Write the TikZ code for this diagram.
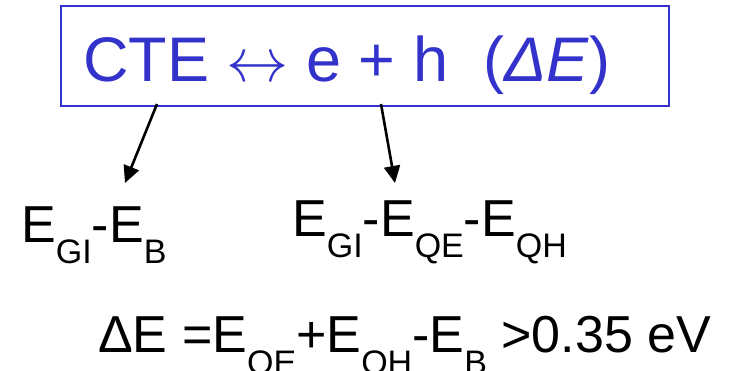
\documentclass[tikz,border=0pt]{standalone}
\usepackage{graphicx}
\usepackage{fontspec}
\setmainfont{Liberation Sans}
\usetikzlibrary{arrows.meta}
\definecolor{boxblue}{RGB}{51,51,204}
\newcommand{\sub}[1]{\raisebox{-21pt}{\fontsize{34}{34}\selectfont #1}}
\newcommand{\lrarrow}{\scalebox{2.5}{\fontsize{24.88}{25}\selectfont$\leftrightarrow$}}
\tikzset{
  frame/.style={draw=boxblue, line width=2pt, minimum width=608pt, minimum height=100pt, inner sep=0pt},
  arr/.style={draw=black, line width=2.6pt, -{Triangle[length=17pt,width=16pt]}},
  lbl/.style={inner sep=0pt, anchor=base west, font=\fontsize{52}{52}\selectfont},
}
\begin{document}
\begin{tikzpicture}[x=1pt,y=-1pt]
\useasboundingbox (0,0) rectangle (734,371);
\node[frame] (box) at (365,56) {};
\node[inner sep=0pt, anchor=base west, text=boxblue, font=\fontsize{63}{63}\selectfont] (top) at (83,82) {CTE \lrarrow\ e + h \ (\textit{ΔE})};
\node[lbl] (l1) at (21,243) {E\sub{GI}-E\sub{B}};
\node[lbl] (l2) at (292,237) {E\sub{GI}-E\sub{QE}-E\sub{QH}};
\node[lbl] (l3) at (98,353) {ΔE =E\sub{QE}+E\sub{QH}-E\sub{B} >0.35 eV};
\coordinate (s1) at (157,104);
\coordinate (t1) at (125,183);
\coordinate (s2) at (381,104);
\coordinate (t2) at (395,183);
\draw[arr] (s1) -- (t1);
\draw[arr] (s2) -- (t2);
\end{tikzpicture}
\end{document}
